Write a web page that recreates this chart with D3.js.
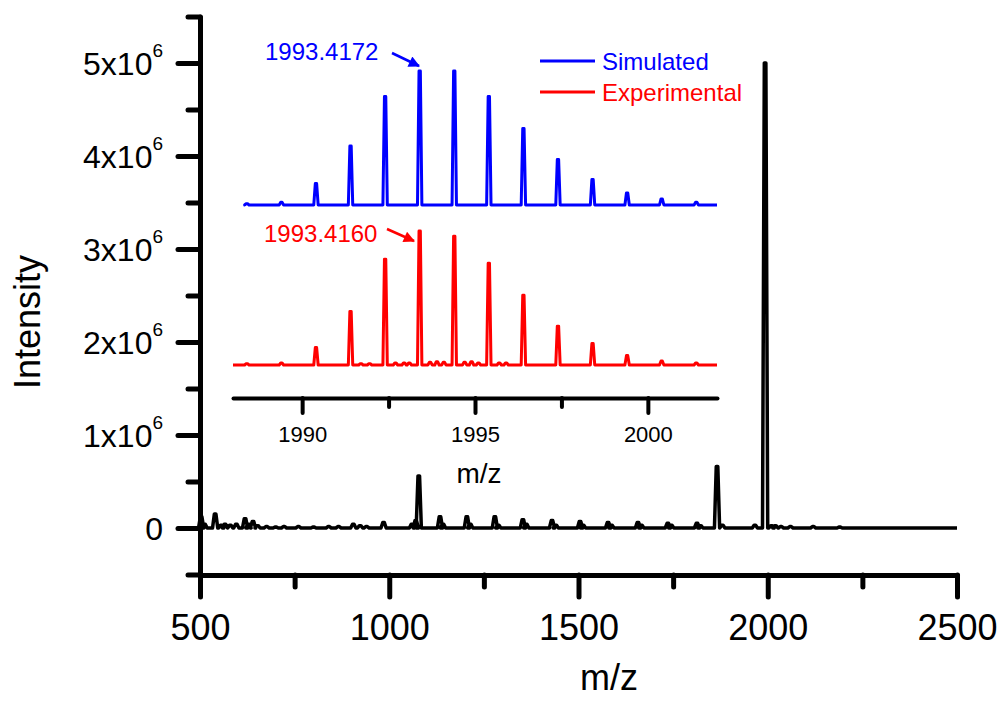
<!DOCTYPE html>
<html lang="en">
<head>
<meta charset="UTF-8">
<title>Mass spectrum with isotope pattern inset</title>
<script src="https://d3js.org/d3.v7.min.js"></script>
<style>
    body { margin: 0; background: #fff; }
    svg { display: block; font-family: Arial, "Liberation Sans", sans-serif; }
</style>
</head>
<body>
<div id="chart"></div>
<script>
// Main spectrum: peak positions (m/z) and intensities
var mainMz  = [503, 512, 540, 556, 566, 580, 596, 619, 628, 640, 652, 676, 700, 722, 760, 800, 840, 866, 905, 923, 940, 985,
               1060, 1070, 1078, 1134, 1142, 1205, 1214, 1279, 1288, 1353, 1362, 1430, 1440, 1504, 1512, 1578, 1587,
               1657, 1666, 1736, 1745, 1813, 1822, 1866, 1880, 1966, 1993, 2010, 2020, 2035, 2060, 2120, 2190];
var mainInt = [1.2e5, 4e4, 1.5e5, 3e4, 4e4, 3e4, 4e4, 1.0e5, 4e4, 7e4, 2.5e4, 1.5e4, 1e4, 1.5e4, 1.5e4, 1e4, 1.5e4, 1.5e4, 4e4, 2.5e4, 1.5e4, 6e4,
               4e4, 8e4, 5.6e5, 1.2e5, 4e4, 1.2e5, 4e4, 1.2e5, 3e4, 9e4, 4e4, 8e4, 3e4, 7e4, 3e4, 6e4, 3e4,
               6e4, 3e4, 5e4, 3e4, 5e4, 2.5e4, 6.6e5, 3e4, 3e4, 5.0e6, 2.5e4, 2.5e4, 1.5e4, 1.5e4, 1.5e4, 1e4];

var xTicks = [500, 1000, 1500, 2000, 2500];
var xMinorTicks = [750, 1250, 1750, 2250];
var yTicks = [0, 1e6, 2e6, 3e6, 4e6, 5e6];
var yMinorTicks = [-5e5, 5e5, 1.5e6, 2.5e6, 3.5e6, 4.5e6, 5.5e6];

// Inset: isotope pattern (relative intensity, %)
var insetMz = [1988.4, 1989.4, 1990.4, 1991.4, 1992.4, 1993.4, 1994.4, 1995.4, 1996.4, 1997.4, 1998.4, 1999.4, 2000.4, 2001.4];
var simInt  = [1, 2, 16, 44, 81, 100, 100, 81, 57, 34, 19, 9, 4.5, 2];
var expInt  = [1, 1.5, 13, 40, 79, 100, 96, 76, 52, 29, 16, 7, 3, 1.5];
var expNoiseMz  = [1991.7, 1991.95, 1992.7, 1992.95, 1993.1, 1993.7, 1993.9, 1994.1, 1994.7, 1994.9, 1995.1, 1995.7, 1995.9];
var expNoiseInt = [1, 1, 1.5, 1.5, 1.5, 2, 2.5, 2, 2, 2.5, 1.5, 1.5, 1.5];
var insetTicks = [1990, 1995, 2000];
var insetMinorTicks = [1992.5, 1997.5];

var legendLabels = ["Simulated", "Experimental"];
var legendColors = ["#0000ff", "#ff0000"];

var width = 1002, height = 702;

var svg = d3.select("#chart").append("svg")
    .attr("width", width)
    .attr("height", height);

svg.append("rect").attr("width", width).attr("height", height).attr("fill", "#fff");

// Main scales
var x = d3.scaleLinear().domain([500, 2500]).range([200, 957]);
var y = d3.scaleLinear().domain([-5e5, 5.5e6]).range([574.5, 16.5]);

// build a spike path: baseline, then a narrow peak at each m/z
function spikes(mz, vals, extraMz, extraVals, start, end, half) {
    var pk = mz.map(function (m, i) { return { m: m, v: vals[i] }; });
    if (extraMz) {
        extraMz.forEach(function (m, i) { pk.push({ m: m, v: extraVals[i] }); });
    }
    pk.sort(function (a, b) { return a.m - b.m; });
    var pts = [{ m: start, dx: 0, v: 0 }];
    pk.forEach(function (p) {
        pts.push({ m: p.m, dx: -half, v: 0 });
        pts.push({ m: p.m, dx: -half * 0.3, v: p.v });
        pts.push({ m: p.m, dx: half * 0.3, v: p.v });
        pts.push({ m: p.m, dx: half, v: 0 });
    });
    pts.push({ m: end, dx: 0, v: 0 });
    return pts;
}

var mainLine = d3.line()
    .x(function (d) { return x(d.m) + d.dx; })
    .y(function (d) { return y(d.v); });

svg.append("path")
    .datum(spikes(mainMz, mainInt, null, null, 500, 2500, 2.6))
    .attr("d", mainLine)
    .attr("fill", "none")
    .attr("stroke", "#000")
    .attr("stroke-width", 3.5)
    .attr("stroke-linejoin", "round");

// Main y axis
var yAxisG = svg.append("g").attr("transform", "translate(200,0)")
    .call(d3.axisLeft(y).tickValues(yTicks).tickSize(22).tickSizeOuter(0).tickFormat(""));
var yMinorG = svg.append("g").attr("transform", "translate(200,0)")
    .call(d3.axisLeft(y).tickValues(yMinorTicks).tickSize(12).tickSizeOuter(0).tickFormat(""));
yMinorG.select(".domain").remove();

// Main x axis
var xAxisG = svg.append("g").attr("transform", "translate(0,575)")
    .call(d3.axisBottom(x).tickValues(xTicks).tickSize(22).tickSizeOuter(0).tickFormat(d3.format("d")));
var xMinorG = svg.append("g").attr("transform", "translate(0,575)")
    .call(d3.axisBottom(x).tickValues(xMinorTicks).tickSize(12).tickSizeOuter(0).tickFormat(""));
xMinorG.select(".domain").remove();

[yAxisG, yMinorG, xAxisG, xMinorG].forEach(function (g) {
    g.selectAll("path, line").attr("stroke", "#000").attr("stroke-width", 5).attr("stroke-linecap", "round");
});

xAxisG.selectAll("text")
    .attr("y", 65).attr("dy", null)
    .attr("fill", "#000")
    .style("font-size", "36px")
    .style("font-family", "Arial, 'Liberation Sans', sans-serif");

// y tick labels with superscript exponent
var yLab = svg.append("g");
yTicks.forEach(function (v) {
    var t = yLab.append("text")
        .attr("x", 163)
        .attr("y", y(v) + 12)
        .attr("text-anchor", "end")
        .style("font-size", "32px");
    if (v === 0) {
        t.text("0");
    } else {
        t.append("tspan").text((v / 1e6) + "x10");
        t.append("tspan").attr("dy", -18).style("font-size", "19px").text("6");
    }
});

svg.append("text")
    .attr("x", 609).attr("y", 690)
    .attr("text-anchor", "middle")
    .style("font-size", "36px")
    .text("m/z");

svg.append("text")
    .attr("transform", "translate(40,322) rotate(-90)")
    .attr("text-anchor", "middle")
    .style("font-size", "36px")
    .text("Intensity");

// Inset
var ix = d3.scaleLinear().domain([1988, 2002]).range([233, 717]);
var simY = d3.scaleLinear().domain([0, 100]).range([205, 71]);
var expY = d3.scaleLinear().domain([0, 100]).range([365, 231]);

var simLine = d3.line()
    .x(function (d) { return ix(d.m) + d.dx; })
    .y(function (d) { return simY(d.v); });
var expLine = d3.line()
    .x(function (d) { return ix(d.m) + d.dx; })
    .y(function (d) { return expY(d.v); });

svg.append("path")
    .datum(spikes(insetMz, simInt, null, null, 1988.35, 2002, 2.2))
    .attr("d", simLine)
    .attr("fill", "none")
    .attr("stroke", legendColors[0])
    .attr("stroke-width", 3)
    .attr("stroke-linejoin", "round");

svg.append("path")
    .datum(spikes(insetMz, expInt, expNoiseMz, expNoiseInt, 1988, 2002, 2.2))
    .attr("d", expLine)
    .attr("fill", "none")
    .attr("stroke", legendColors[1])
    .attr("stroke-width", 3)
    .attr("stroke-linejoin", "round");

var insetAxis = svg.append("g").attr("transform", "translate(0,398)")
    .call(d3.axisBottom(ix).tickValues(insetTicks).tickSize(15).tickSizeOuter(0).tickFormat(d3.format("d")));
var insetMinor = svg.append("g").attr("transform", "translate(0,398)")
    .call(d3.axisBottom(ix).tickValues(insetMinorTicks).tickSize(9).tickSizeOuter(0).tickFormat(""));
insetMinor.select(".domain").remove();
[insetAxis, insetMinor].forEach(function (g) {
    g.selectAll("path, line").attr("stroke", "#000").attr("stroke-width", 4).attr("stroke-linecap", "round");
});
insetAxis.selectAll("text")
    .attr("y", 44).attr("dy", null)
    .attr("fill", "#000")
    .style("font-size", "22px")
    .style("font-family", "Arial, 'Liberation Sans', sans-serif");

svg.append("text")
    .attr("x", 479).attr("y", 483)
    .attr("text-anchor", "middle")
    .style("font-size", "28px")
    .text("m/z");

// Peak annotations with arrows
var defs = svg.append("defs");
legendColors.forEach(function (c, i) {
    defs.append("marker")
        .attr("id", "arrow" + i)
        .attr("viewBox", "0 0 10 10")
        .attr("refX", 9).attr("refY", 5)
        .attr("markerWidth", 5).attr("markerHeight", 4.5)
        .attr("markerUnits", "strokeWidth")
        .attr("orient", "auto")
        .append("path")
        .attr("d", "M0,0L10,5L0,10z")
        .attr("fill", c);
});

var annotations = [
    { label: "1993.4172", color: legendColors[0], tx: 265, ty: 60, x1: 392, y1: 53, x2: 419, y2: 66, m: 0 },
    { label: "1993.4160", color: legendColors[1], tx: 264, ty: 242, x1: 387, y1: 229, x2: 414, y2: 241, m: 1 }
];
annotations.forEach(function (a) {
    svg.append("text")
        .attr("x", a.tx).attr("y", a.ty)
        .attr("fill", a.color)
        .style("font-size", "24px")
        .text(a.label);
    svg.append("line")
        .attr("x1", a.x1).attr("y1", a.y1)
        .attr("x2", a.x2).attr("y2", a.y2)
        .attr("stroke", a.color)
        .attr("stroke-width", 2.5)
        .attr("marker-end", "url(#arrow" + a.m + ")");
});

// Legend
var legend = svg.append("g").attr("transform", "translate(540,61)");
legendLabels.forEach(function (l, i) {
    var row = legend.append("g").attr("transform", "translate(0," + (i * 31) + ")");
    row.append("line")
        .attr("x1", 0).attr("x2", 55)
        .attr("stroke", legendColors[i])
        .attr("stroke-width", 3);
    row.append("text")
        .attr("x", 62).attr("y", 9)
        .attr("fill", legendColors[i])
        .style("font-size", "24px")
        .text(l);
});
</script>
</body>
</html>
